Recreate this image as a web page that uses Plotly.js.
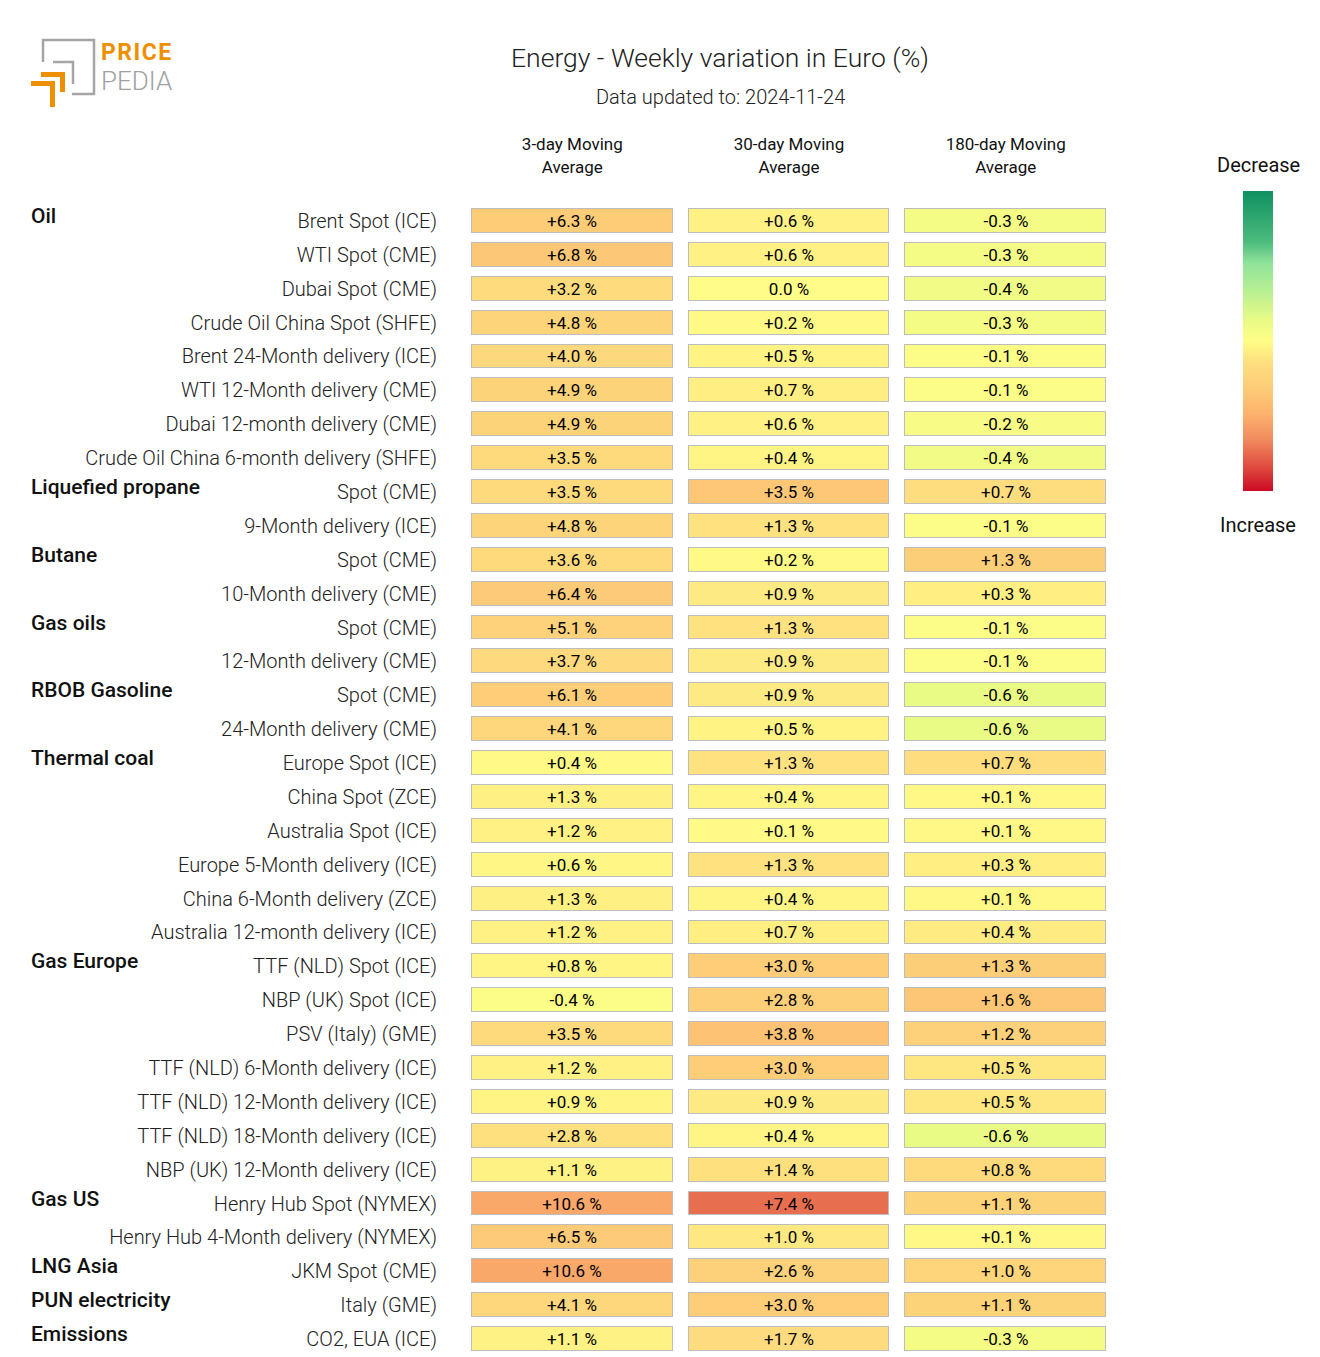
<!DOCTYPE html>
<html>
<head>
<meta charset="utf-8">
<script src="https://cdn.plot.ly/plotly-3.0.1.min.js"></script>
<style>html,body{margin:0;padding:0;background:#fff;}#chart{width:1320px;height:1357px;}</style>
</head>
<body>
<div id="chart"></div>
<script>
// ---------- DATA ----------
const columnHeaders = ['3-day Moving<br>Average', '30-day Moving<br>Average', '180-day Moving<br>Average'];

const groupLabels = [
  'Oil','','','','','','','',
  'Liquefied propane','',
  'Butane','',
  'Gas oils','',
  'RBOB Gasoline','',
  'Thermal coal','','','','','',
  'Gas Europe','','','','','','',
  'Gas US','',
  'LNG Asia',
  'PUN electricity',
  'Emissions'
];

const itemLabels = [
  'Brent Spot (ICE)','WTI Spot (CME)','Dubai Spot (CME)','Crude Oil China Spot (SHFE)',
  'Brent 24-Month delivery (ICE)','WTI 12-Month delivery (CME)','Dubai 12-month delivery (CME)',
  'Crude Oil China 6-month delivery (SHFE)',
  'Spot (CME)','9-Month delivery (ICE)',
  'Spot (CME)','10-Month delivery (CME)',
  'Spot (CME)','12-Month delivery (CME)',
  'Spot (CME)','24-Month delivery (CME)',
  'Europe Spot (ICE)','China Spot (ZCE)','Australia Spot (ICE)','Europe 5-Month delivery (ICE)',
  'China 6-Month delivery (ZCE)','Australia 12-month delivery (ICE)',
  'TTF (NLD) Spot (ICE)','NBP (UK) Spot (ICE)','PSV (Italy) (GME)','TTF (NLD) 6-Month delivery (ICE)',
  'TTF (NLD) 12-Month delivery (ICE)','TTF (NLD) 18-Month delivery (ICE)','NBP (UK) 12-Month delivery (ICE)',
  'Henry Hub Spot (NYMEX)','Henry Hub 4-Month delivery (NYMEX)',
  'JKM Spot (CME)',
  'Italy (GME)',
  'CO2, EUA (ICE)'
];

const ma3 = [6.3,6.8,3.2,4.8,4.0,4.9,4.9,3.5, 3.5,4.8, 3.6,6.4, 5.1,3.7, 6.1,4.1,
             0.4,1.3,1.2,0.6,1.3,1.2, 0.8,-0.4,3.5,1.2,0.9,2.8,1.1, 10.6,6.5, 10.6, 4.1, 1.1];
const ma30 = [0.6,0.6,0.0,0.2,0.5,0.7,0.6,0.4, 3.5,1.3, 0.2,0.9, 1.3,0.9, 0.9,0.5,
              1.3,0.4,0.1,1.3,0.4,0.7, 3.0,2.8,3.8,3.0,0.9,0.4,1.4, 7.4,1.0, 2.6, 3.0, 1.7];
const ma180 = [-0.3,-0.3,-0.4,-0.3,-0.1,-0.1,-0.2,-0.4, 0.7,-0.1, 1.3,0.3, -0.1,-0.1, -0.6,-0.6,
               0.7,0.1,0.1,0.3,0.1,0.4, 1.3,1.6,1.2,0.5,0.5,-0.6,0.8, 1.1,0.1, 1.0, 1.1, -0.3];

// ---------- STYLE ----------
const W = 1320, H = 1357;
const ML = 464, MR = 206, MT = 204, MB = 1;
const PW = W - ML - MR, PH = H - MT - MB;
const FONT = 'Roboto, sans-serif';
const colScaleMax = [20, 10, 4.5];
const colorscale = [
  [0.00, '#CC0A24'], [0.08, '#DF4B3F'], [0.17, '#F08A5E'], [0.26, '#FDB36D'],
  [0.34, '#FDCB77'], [0.42, '#FEDC7E'], [0.50, '#FFFD87'], [0.57, '#E8FB85'],
  [0.67, '#B6EF93'], [0.76, '#8FE39A'], [0.83, '#4DBB7E'], [1.00, '#0E9160']
];

function px(x) { return (x - ML) / PW; }
function py(y) { return 1 - (y - MT) / PH; }
function P(x, y) { return px(x) + ',' + py(y); }
function fmt(v) {
  if (v === 0) return '0.0 %';
  return (v > 0 ? '+' : '-') + Math.abs(v).toFixed(1) + ' %';
}

const idx = itemLabels.map((_, i) => i);
const series = [ma3, ma30, ma180];

const traces = [];
// border layer
traces.push({
  type: 'heatmap', x: [0, 1, 2], y: idx,
  z: idx.map(() => [0, 0, 0]),
  colorscale: [[0, '#BDBDBD'], [1, '#BDBDBD']], zmin: -1, zmax: 1,
  showscale: false, xgap: 15, ygap: 9, hoverinfo: 'skip'
});
series.forEach((vals, j) => {
  const m = colScaleMax[j];
  traces.push({
    type: 'heatmap', x: [0, 1, 2], y: idx,
    z: vals.map(v => [0, 1, 2].map(k => (k === j ? -v : null))),
    text: vals.map(v => [0, 1, 2].map(k => (k === j ? fmt(v) : ''))),
    texttemplate: '%{text}',
    textfont: { family: FONT, size: 17, color: '#000' },
    zmin: -m, zmax: m, colorscale: colorscale,
    xgap: 17, ygap: 11, hoverinfo: 'skip',
    showscale: j === 0,
    colorbar: {
      thickness: 30, thicknessmode: 'pixels', len: 300, lenmode: 'pixels',
      xref: 'container', x: 1243 / W, xanchor: 'left',
      yref: 'container', y: 1 - 225 / H, yanchor: 'top',
      showticklabels: false, ticks: '', outlinewidth: 0, xpad: 0, ypad: 0
    }
  });
});

const annotations = [];
groupLabels.forEach((g, i) => {
  if (!g) return;
  annotations.push({
    xref: 'paper', yref: 'y', x: px(31), y: i, xanchor: 'left', yanchor: 'middle',
    xshift: -2, yshift: 5, text: g, showarrow: false,
    font: { family: FONT, size: 21, weight: 500, color: '#111' }
  });
});
annotations.push({
  xref: 'paper', yref: 'paper', x: px(720), y: py(97), xanchor: 'center', yanchor: 'middle',
  text: 'Data updated to: 2024-11-24', showarrow: false,
  font: { family: FONT, size: 20, weight: 300, color: '#222' }
});
annotations.push({
  xref: 'paper', yref: 'paper', x: px(1258), y: py(165), xanchor: 'center', yanchor: 'middle',
  text: 'Decrease', showarrow: false, font: { family: FONT, size: 20, color: '#111' }
});
annotations.push({
  xref: 'paper', yref: 'paper', x: px(1258), y: py(525), xanchor: 'center', yanchor: 'middle',
  text: 'Increase', showarrow: false, font: { family: FONT, size: 20, color: '#111' }
});
// logo text
annotations.push({
  xref: 'paper', yref: 'paper', x: px(101), y: py(52), xanchor: 'left', yanchor: 'middle',
  xshift: -2, showarrow: false,
  text: '<span style="letter-spacing:1.5px">PRICE</span>',
  font: { family: FONT, size: 23, weight: 700, color: '#EE8F00' }
});
annotations.push({
  xref: 'paper', yref: 'paper', x: px(101), y: py(81), xanchor: 'left', yanchor: 'middle',
  xshift: -2, showarrow: false,
  text: 'PEDIA',
  font: { family: FONT, size: 26, weight: 300, color: '#A0A0A0' }
});

const shapes = [
  { type: 'path', xref: 'paper', yref: 'paper',
    path: 'M' + P(43, 62) + ' L' + P(43, 40) + ' L' + P(94, 40) + ' L' + P(94, 94) + ' L' + P(72, 94),
    line: { color: '#A5A5A5', width: 2.5 } },
  { type: 'path', xref: 'paper', yref: 'paper',
    path: 'M' + P(53, 62) + ' L' + P(73, 62) + ' L' + P(73, 84),
    line: { color: '#A5A5A5', width: 2.5 } },
  { type: 'path', xref: 'paper', yref: 'paper',
    path: 'M' + P(41, 72) + ' L' + P(65, 72) + ' L' + P(65, 92) + ' L' + P(60, 92) + ' L' + P(60, 77) + ' L' + P(41, 77) + ' Z',
    fillcolor: '#EE8F00', line: { width: 0 } },
  { type: 'path', xref: 'paper', yref: 'paper',
    path: 'M' + P(31, 81) + ' L' + P(55, 81) + ' L' + P(55, 107) + ' L' + P(50, 107) + ' L' + P(50, 86) + ' L' + P(31, 86) + ' Z',
    fillcolor: '#EE8F00', line: { width: 0 } }
];

const layout = {
  width: W, height: H,
  margin: { l: ML, r: MR, t: MT, b: MB, pad: 0 },
  paper_bgcolor: '#fff', plot_bgcolor: '#fff',
  title: {
    text: 'Energy - Weekly variation in Euro (%)',
    font: { family: FONT, size: 26.5, weight: 300, color: '#222' },
    xref: 'container', x: 720 / W, xanchor: 'center',
    yref: 'container', y: 1 - 58 / H, yanchor: 'middle'
  },
  xaxis: {
    side: 'top', range: [-0.5, 2.5], tickvals: [0, 1, 2], ticktext: columnHeaders,
    tickfont: { family: FONT, size: 17, color: '#111' },
    showgrid: false, zeroline: false, showline: false, ticks: '', ticklabelstandoff: 27,
    fixedrange: true
  },
  yaxis: {
    range: [33.5, -0.5], tickvals: idx, ticktext: itemLabels,
    tickfont: { family: FONT, size: 20, weight: 300, color: '#222' },
    showgrid: false, zeroline: false, showline: false, ticks: '', ticklabelstandoff: 26,
    fixedrange: true
  },
  annotations: annotations,
  shapes: shapes,
  showlegend: false
};

Plotly.newPlot('chart', traces, layout, { displayModeBar: false, staticPlot: true });
</script>
</body>
</html>
